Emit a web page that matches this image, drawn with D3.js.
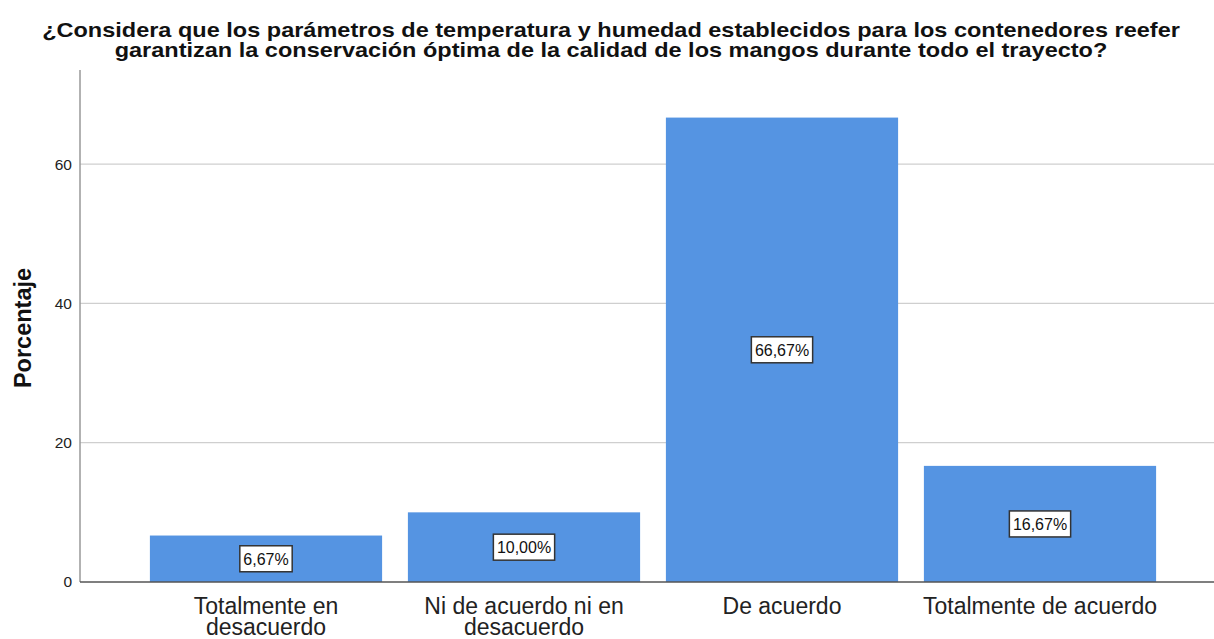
<!DOCTYPE html>
<html>
<head>
<meta charset="utf-8">
<script src="https://cdn.jsdelivr.net/npm/d3@7"></script>
<style>
  body { margin: 0; background: #fff; }
  text { font-family: "Liberation Sans", Arial, sans-serif; }
</style>
</head>
<body>
<div id="chart"></div>
<script>
// Chart data
const categories = ["Totalmente en desacuerdo", "Ni de acuerdo ni en desacuerdo", "De acuerdo", "Totalmente de acuerdo"];
const categoryLines = [["Totalmente en", "desacuerdo"], ["Ni de acuerdo ni en", "desacuerdo"], ["De acuerdo"], ["Totalmente de acuerdo"]];
const percentages = [6.67, 10.00, 66.67, 16.67];
const yTicks = [0, 20, 40, 60];
const titleLines = [
    "¿Considera que los parámetros de temperatura y humedad establecidos para los contenedores reefer",
    "garantizan la conservación óptima de la calidad de los mangos durante todo el trayecto?"
];

const width = 1214;
const height = 639;

const svg = d3.select("#chart").append("svg")
    .attr("width", width)
    .attr("height", height);

// plot area bounds
const plotLeft = 80, plotRight = 1214, plotTop = 70, plotBottom = 582;

const x = d3.scaleBand()
    .domain(categories)
    .range([137, 1169])
    .paddingInner(0.1)
    .paddingOuter(0.05);

const y = d3.scaleLinear()
    .domain([0, 73.5])
    .range([plotBottom, plotTop]);

// gridlines
svg.append("g")
    .selectAll("line")
    .data(yTicks.filter(d => d > 0))
    .enter().append("line")
    .attr("x1", plotLeft)
    .attr("x2", plotRight)
    .attr("y1", d => y(d))
    .attr("y2", d => y(d))
    .style("stroke", "#cfcfcf")
    .style("stroke-width", 1.3);

// y axis
const yAxis = svg.append("g")
    .attr("transform", `translate(${plotLeft},0)`)
    .call(d3.axisLeft(y).tickValues(yTicks).tickSize(0).tickPadding(8));
yAxis.select(".domain").remove();
yAxis.selectAll("text")
    .style("font-size", "15.5px")
    .style("fill", "#222");

svg.append("line")
    .attr("x1", plotLeft).attr("x2", plotLeft)
    .attr("y1", plotTop).attr("y2", plotBottom)
    .style("stroke", "#999")
    .style("stroke-width", 1.5);

// bars
svg.append("g")
    .selectAll("rect")
    .data(percentages)
    .enter().append("rect")
    .attr("x", (d, i) => x(categories[i]))
    .attr("width", x.bandwidth())
    .attr("y", d => y(d))
    .attr("height", d => y(0) - y(d))
    .style("fill", "#5594e2");

// x axis baseline
svg.append("line")
    .attr("x1", plotLeft).attr("x2", plotRight)
    .attr("y1", plotBottom).attr("y2", plotBottom)
    .style("stroke", "#555")
    .style("stroke-width", 1.3);

// value labels in boxes
const labels = svg.append("g")
    .selectAll("g")
    .data(percentages)
    .enter().append("g")
    .attr("transform", (d, i) => `translate(${x(categories[i]) + x.bandwidth() / 2},${(y(d) + y(0)) / 2})`);

labels.append("text")
    .attr("text-anchor", "middle")
    .attr("dy", "0.36em")
    .style("font-size", "16px")
    .style("fill", "#111")
    .text(d => d.toFixed(2).replace(".", ",") + "%");

labels.each(function() {
    const g = d3.select(this);
    const bb = g.select("text").node().getBBox();
    g.insert("rect", "text")
        .attr("x", bb.x - 3.5)
        .attr("y", -13)
        .attr("width", bb.width + 7)
        .attr("height", 26)
        .style("fill", "#fff")
        .style("stroke", "#333")
        .style("stroke-width", 1.5);
});

// category labels
const xl = svg.append("g")
    .selectAll("text")
    .data(categories)
    .enter().append("text")
    .attr("text-anchor", "middle")
    .attr("x", d => x(d) + x.bandwidth() / 2)
    .attr("y", 614)
    .style("font-size", "23px")
    .style("fill", "#222");

xl.selectAll("tspan")
    .data((d, i) => categoryLines[i])
    .enter().append("tspan")
    .attr("x", function() { return d3.select(this.parentNode).attr("x"); })
    .attr("dy", (d, i) => i === 0 ? 0 : 21)
    .text(d => d);

// y axis title
svg.append("text")
    .attr("transform", `translate(31,${(plotTop + plotBottom) / 2 + 2}) rotate(-90)`)
    .attr("text-anchor", "middle")
    .style("font-size", "23.5px")
    .style("font-weight", "bold")
    .style("fill", "#111")
    .text("Porcentaje");

// chart title (SPSS font is a bit wider than Arial, so stretch horizontally)
svg.append("g")
    .selectAll("text")
    .data(titleLines)
    .enter().append("text")
    .attr("transform", (d, i) => `translate(611,${37 + i * 20}) scale(1.12,1)`)
    .attr("text-anchor", "middle")
    .style("font-size", "21px")
    .style("font-weight", "bold")
    .style("fill", "#111")
    .text(d => d);
</script>
</body>
</html>
